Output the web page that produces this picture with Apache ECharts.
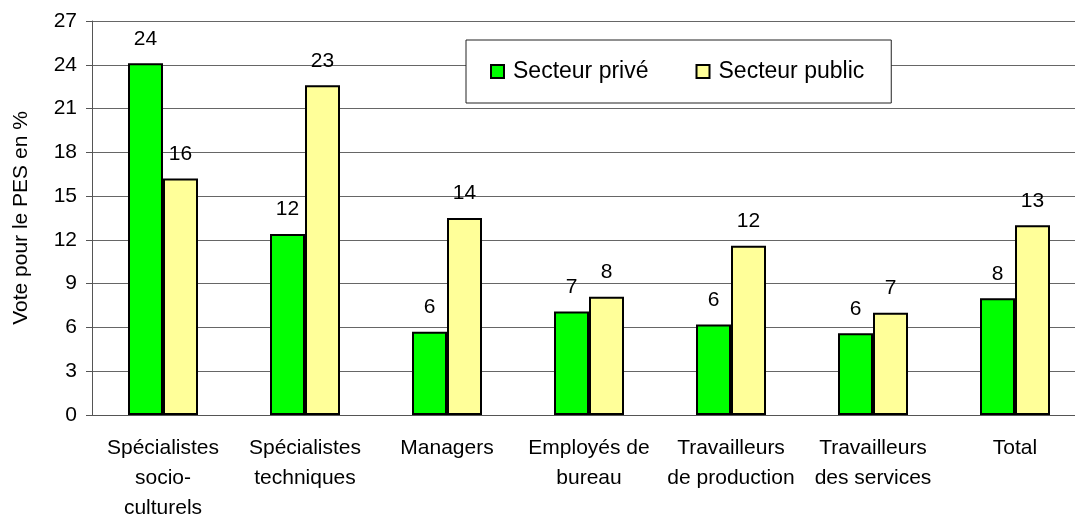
<!DOCTYPE html>
<html>
<head>
<meta charset="utf-8">
<script src="https://cdn.jsdelivr.net/npm/echarts@6/dist/echarts.min.js"></script>
<style>
  html, body { margin: 0; padding: 0; background: #fff; }
  #chart { width: 1075px; height: 515px; }
</style>
</head>
<body>
<div id="chart"></div>
<script>
const categories = [
    'Spécialistes\nsocio-\nculturels',
    'Spécialistes\ntechniques',
    'Managers',
    'Employés de\nbureau',
    'Travailleurs\nde production',
    'Travailleurs\ndes services',
    'Total'
];
const prive = [24.1, 12.4, 5.7, 7.1, 6.2, 5.6, 8.0];
const public_ = [16.2, 22.6, 13.5, 8.1, 11.6, 7.0, 13.0];
const yTicks = [0, 3, 6, 9, 12, 15, 18, 21, 24, 27];

const font = 'Liberation Sans, Arial, sans-serif';

function makeSeries(name, values, color) {
    return {
        name: name,
        type: 'bar',
        data: values,
        barWidth: 35,
        barGap: '0%',
        itemStyle: { color: color, borderColor: '#000', borderWidth: 2 },
        label: {
            show: true,
            position: 'top',
            distance: 14,
            fontFamily: font,
            fontSize: 21,
            color: '#000',
            formatter: p => Math.round(p.value)
        }
    };
}

const chart = echarts.init(document.getElementById('chart'));
const option = {
    animation: false,
    backgroundColor: '#fff',
    grid: { left: 92, top: 21, width: 994, height: 394, outerBoundsMode: 'none', containLabel: false },
    legend: {
        left: 466,
        top: 40,
        backgroundColor: '#fff',
        borderColor: '#222',
        borderWidth: 1,
        padding: [20, 27, 20, 24],
        itemWidth: 13,
        itemHeight: 13,
        itemGap: 47,
        icon: 'rect',
        textStyle: { fontFamily: font, fontSize: 23, color: '#000', padding: [0, 0, 0, 4] }
    },
    xAxis: {
        type: 'category',
        data: categories,
        axisLine: { lineStyle: { color: '#555', width: 1 } },
        axisTick: { length: 6, lineStyle: { color: '#555' } },
        axisLabel: {
            interval: 0,
            margin: 18,
            fontFamily: font,
            fontSize: 21,
            lineHeight: 30,
            color: '#000'
        }
    },
    yAxis: {
        type: 'value',
        min: yTicks[0],
        max: yTicks[yTicks.length - 1],
        interval: 3,
        name: 'Vote pour le PES en %',
        nameLocation: 'middle',
        nameGap: 60,
        nameTextStyle: { fontFamily: font, fontSize: 21, color: '#000' },
        axisLine: { show: true, lineStyle: { color: '#555' } },
        axisTick: { show: true, length: 6, lineStyle: { color: '#555' } },
        axisLabel: { fontFamily: font, fontSize: 21, color: '#000', margin: 15 },
        splitLine: { lineStyle: { color: '#666', width: 1 } }
    },
    series: [
        makeSeries('Secteur privé', prive, '#00ff00'),
        makeSeries('Secteur public', public_, '#ffff99')
    ]
};
chart.setOption(option);
</script>
</body>
</html>
